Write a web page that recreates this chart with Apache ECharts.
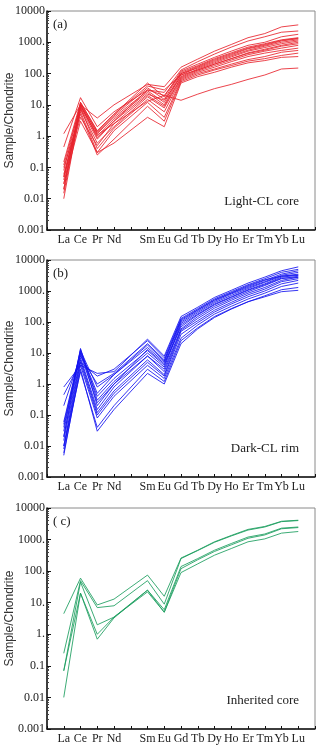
<!DOCTYPE html>
<html>
<head>
<meta charset="utf-8">
<script src="https://cdn.jsdelivr.net/npm/echarts@6/dist/echarts.min.js"></script>
<style>
  html, body { margin: 0; padding: 0; background: #fff; }
  #chart { width: 320px; height: 749px; }
</style>
</head>
<body>
<div id="chart"></div>
<script>
// REE order, Pm has no data (blank slot on the axis)
const elements = ['La', 'Ce', 'Pr', 'Nd', '', 'Sm', 'Eu', 'Gd', 'Tb', 'Dy', 'Ho', 'Er', 'Tm', 'Yb', 'Lu']
const yTickLabels = { 10000: '10000', 1000: '1000.', 100: '100.', 10: '10.', 1: '1.', 0.1: '0.1', 0.01: '0.01', 0.001: '0.001' }

// (a) Light-CL core
const lightCore = [
  [1.2, 10, 3.8, 10, null, 45, 38, 160, 290, 520, 850, 1400, 1900, 3100, 3600],
  [0.45, 17, 2.0, 6, null, 30, 25, 130, 240, 420, 700, 1100, 1500, 2100, 2300],
  [0.15, 12, 1.5, 5, null, 50, 18, 120, 200, 330, 520, 800, 1000, 1500, 1800],
  [0.12, 10, 1.3, 4.5, null, 35, 15, 110, 180, 300, 460, 700, 900, 1200, 1400],
  [0.08, 11, 1.2, 4, null, 28, 12, 100, 170, 280, 430, 650, 850, 1150, 1350],
  [0.05, 9, 1.0, 3.5, null, 25, 10, 90, 160, 260, 400, 620, 800, 1100, 1300],
  [0.04, 10, 0.9, 3, null, 30, 20, 100, 150, 240, 370, 560, 750, 1000, 1200],
  [0.03, 8, 0.8, 3, null, 22, 14, 80, 140, 220, 340, 520, 680, 900, 1100],
  [0.02, 9, 1.1, 2.5, null, 20, 9, 75, 130, 200, 300, 460, 600, 800, 1000],
  [0.015, 7, 0.6, 2, null, 18, 8, 70, 120, 180, 270, 400, 520, 650, 800],
  [0.01, 8, 0.4, 1.8, null, 15, 6, 65, 110, 160, 240, 350, 450, 550, 650],
  [0.06, 6, 0.3, 1.5, null, 12, 4, 60, 100, 140, 200, 280, 350, 480, 550],
  [0.1, 5, 0.25, 0.8, null, 9, 3, 55, 90, 130, 180, 250, 300, 380, 450],
  [0.03, 3, 0.3, 0.6, null, 4, 2, 50, 80, 110, 160, 220, 260, 330, 350],
  [0.02, 12, 1.4, 5, null, 40, 30, 90, 130, 200, 300, 440, 560, 750, 900],
  [0.05, 4, 0.5, 2.5, null, 13, 20, 14, 22, 33, 45, 65, 90, 140, 150]
]

// (b) Dark-CL rim
const darkRim = [
  [0.8, 4, 2.2, 2.5, null, 28, 8, 150, 300, 620, 1050, 1800, 2800, 4500, 6000],
  [0.45, 5, 1.8, 3, null, 25, 7, 130, 270, 560, 950, 1600, 2500, 4000, 5000],
  [0.2, 8, 1.0, 2.2, null, 20, 6, 110, 240, 500, 850, 1400, 2200, 3500, 4500],
  [0.06, 12, 0.8, 2, null, 15, 5, 100, 220, 460, 800, 1300, 2000, 3200, 4000],
  [0.04, 10, 0.4, 1.5, null, 12, 4, 90, 200, 420, 720, 1200, 1900, 3000, 3500],
  [0.03, 14, 0.3, 1.2, null, 10, 3.5, 80, 180, 380, 650, 1100, 1700, 2800, 3200],
  [0.02, 9, 0.25, 1.0, null, 8, 3, 60, 150, 320, 560, 950, 1500, 2500, 3000],
  [0.015, 7, 0.15, 0.8, null, 8, 2.5, 55, 130, 280, 500, 850, 1300, 2200, 2800],
  [0.01, 6, 0.12, 0.6, null, 6, 2, 50, 110, 240, 430, 750, 1150, 2000, 2500],
  [0.008, 5, 0.1, 0.5, null, 5, 1.8, 40, 95, 210, 380, 650, 1000, 1700, 2200],
  [0.005, 4, 0.08, 0.4, null, 4, 1.5, 30, 80, 180, 320, 550, 850, 1400, 1800],
  [0.006, 3, 0.03, 0.15, null, 2.2, 1.0, 20, 60, 140, 260, 450, 700, 1100, 1300],
  [0.01, 2.5, 0.04, 0.2, null, 3, 1.2, 25, 65, 150, 270, 450, 650, 950, 1050],
  [0.05, 11, 0.5, 2, null, 18, 5.5, 120, 250, 520, 880, 1500, 2300, 3000, 3300],
  [0.02, 13, 0.2, 1.0, null, 13, 4.5, 70, 170, 360, 620, 1050, 1600, 2600, 2700]
]

// (c) Inherited core
const inheritedCore = [
  [4.5, 60, 8.5, 13, null, 75, 16, 260, 460, 850, 1350, 2100, 2600, 3800, 4100],
  [0.25, 50, 7, 8, null, 50, 9, 250, 450, 820, 1300, 2000, 2500, 3700, 4000],
  [0.07, 20, 1.0, 3.5, null, 25, 6, 140, 250, 460, 750, 1200, 1500, 2300, 2500],
  [0.07, 45, 2, 3.5, null, 22, 5, 120, 230, 420, 680, 1100, 1400, 2200, 2400],
  [0.01, 20, 0.7, 3.3, null, 25, 5, 90, 170, 320, 520, 850, 1050, 1600, 1800]
]

const panels = [
  { rows: lightCore, color: '#e8232d', tag: '(a)', note: 'Light-CL core', top: 11, height: 219 },
  { rows: darkRim, color: '#1414f0', tag: '(b)', note: 'Dark-CL rim', top: 260, height: 217 },
  { rows: inheritedCore, color: '#1b9e5e', tag: '( c)', note: 'Inherited core', top: 508, height: 221 }
]

const serif = '"Liberation Serif", "DejaVu Serif", serif'

const chart = echarts.init(document.getElementById('chart'))

const grid = panels.map(p => ({
  left: 47, right: 5, top: p.top, height: p.height,
  containLabel: false, outerBoundsMode: 'none',
  show: true, borderColor: '#8a8a8a', borderWidth: 1
}))

const xAxis = panels.map((p, i) => ({
  type: 'value', gridIndex: i, min: -1, max: 15, interval: 1,
  axisLine: { onZero: false, lineStyle: { color: '#111', width: 1.5 } },
  axisTick: { inside: true, length: 3, lineStyle: { color: '#111' } },
  splitLine: { show: false },
  axisLabel: {
    color: '#222', fontFamily: serif, fontSize: 12, margin: 4,
    showMinLabel: true, showMaxLabel: true, hideOverlap: false,
    formatter: v => (v >= 0 && v < elements.length) ? elements[v] : ''
  }
}))

const yAxis = panels.map((p, i) => ({
  type: 'log', gridIndex: i, min: 0.001, max: 10000, logBase: 10,
  name: 'Sample/Chondrite', nameLocation: 'middle', nameGap: 31, nameMoveOverlap: false,
  nameTextStyle: { fontFamily: '"Liberation Sans", Arial, sans-serif', fontSize: 12, color: '#333' },
  axisLine: { onZero: false, lineStyle: { color: '#111', width: 1.5 } },
  axisTick: { inside: true, length: 4, lineStyle: { color: '#111' } },
  minorTick: { show: true, splitNumber: 9, length: 2, lineStyle: { color: '#444' } },
  splitLine: { show: false },
  axisLabel: {
    color: '#222', fontFamily: serif, fontSize: 12, margin: 2,
    showMinLabel: true, showMaxLabel: true,
    formatter: v => yTickLabels[v] || ''
  }
}))

const series = []
panels.forEach((p, i) => {
  p.rows.forEach(row => {
    const data = []
    row.forEach((v, k) => { if (v != null) data.push([k, v]) })
    series.push({
      type: 'line', xAxisIndex: i, yAxisIndex: i, data: data,
      symbol: 'none', silent: true,
      lineStyle: { color: p.color, width: 1, opacity: 0.85 }
    })
  })
})

const graphic = []
panels.forEach(p => {
  graphic.push({
    type: 'text', left: 53, top: p.top + 7,
    style: { text: p.tag, font: '13px ' + serif, fill: '#222' }
  })
  graphic.push({
    type: 'text', right: 21, top: p.top + p.height - 35,
    style: { text: p.note, font: '13px ' + serif, fill: '#222' }
  })
})

chart.setOption({
  animation: false,
  grid: grid,
  xAxis: xAxis,
  yAxis: yAxis,
  series: series,
  graphic: graphic
})
</script>
</body>
</html>
